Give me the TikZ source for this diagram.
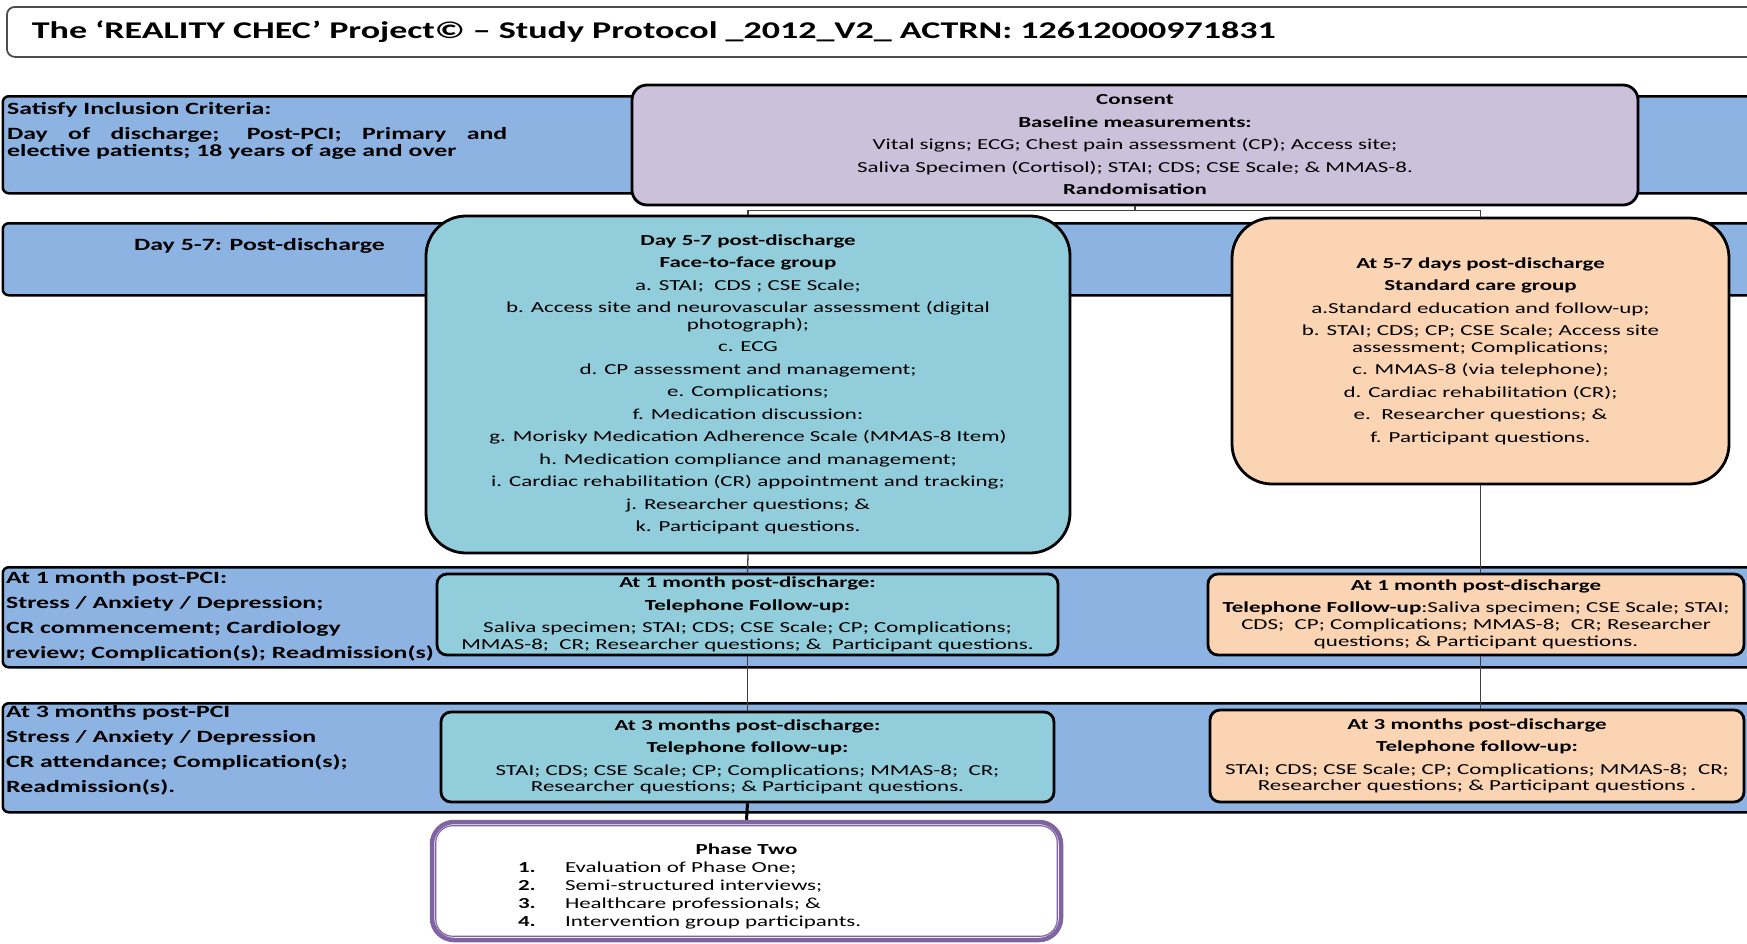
\documentclass[tikz,border=0pt]{standalone}
\usepackage{fontspec}
\setmainfont{Carlito}[FakeStretch=1.5]
\usetikzlibrary{calc}
\definecolor{bandblue}{HTML}{8DB3E2}
\definecolor{lav}{HTML}{CCC1DA}
\definecolor{aqua}{HTML}{92CDDC}
\definecolor{peach}{HTML}{FBD4B4}
\definecolor{purp}{HTML}{8064A2}
\newcommand\bodyfont{\fontsize{15.3}{16.7}\selectfont}
\newcommand\bandfont{\fontsize{17.2}{17.2}\selectfont\bfseries}
\newcommand\pgap{\\[5.8pt]}
\begin{document}
\begin{tikzpicture}[x=1pt,y=-1pt,
  titlebox/.style={draw=gray!60!black, line width=1.8, rounded corners=8, fill=white,
    anchor=north west, minimum height=50, text width=1700, inner xsep=25, align=left,
    font=\fontsize{24}{28}\selectfont\bfseries},
  band/.style={draw=black, line width=2.5, fill=bandblue, rounded corners=6,
    anchor=north west, minimum width=1780, inner sep=0},
  bandtext/.style={anchor=west, align=left, inner sep=0, font=\bandfont},
  box/.style={draw=black, line width=2.8, align=center, inner sep=0, font=\bodyfont},
  consentbox/.style={box, fill=lav, rounded corners=15},
  f2fbox/.style={box, fill=aqua, rounded corners=40},
  stdbox/.style={box, fill=peach, rounded corners=40},
  telbox/.style={box, fill=aqua, rounded corners=10},
  telboxr/.style={box, fill=peach, rounded corners=10},
  phasebox/.style={draw=purp, line width=4.5, rounded corners=22, fill=white, inner sep=0,
    font=\bodyfont},
  conn/.style={draw=black!75, line width=1.3},
  thickconn/.style={draw=black, line width=3}]
\useasboundingbox (0,0) rectangle (1747,943);

% heading strip
\node[titlebox] (title) at (6,6)
  {The ‘REALITY CHEC’ Project© – Study Protocol \_2012\_V2\_ ACTRN: 12612000971831};

% time-point bands
\node[band, minimum height=97]  (band1) at (1.5,95)  {};
\node[band, minimum height=72]  (band2) at (1.5,222) {};
\node[band, minimum height=100] (band3) at (1.5,566) {};
\node[band, minimum height=109] (band4) at (1.5,702) {};

\node[bandtext] (crit) at (7,131)
  {Satisfy Inclusion Criteria:\\[8pt]
   \makebox[500pt][s]{Day of discharge; Post-PCI; Primary and}\\
   elective patients; 18 years of age and over};
\node[bandtext] (day57) at (134,246) {Day 5-7: Post-discharge};
\node[bandtext, font=\fontsize{17.2}{25}\selectfont\bfseries] (mon1) at (6,616.5)
  {At 1 month post-PCI:\\ Stress / Anxiety / Depression;\\ CR commencement; Cardiology\\
   review; Complication(s); Readmission(s)};
\node[bandtext, font=\fontsize{17.2}{25}\selectfont\bfseries] (mon3) at (6,750.5)
  {At 3 months post-PCI\\ Stress / Anxiety / Depression\\ CR attendance; Complication(s);\\
   Readmission(s).};

% consent and baseline
\node[consentbox, minimum width=1006, minimum height=120] (consent) at (1135,145)
  {\textbf{Consent}\pgap
   \textbf{Baseline measurements:}\pgap
   Vital signs; ECG; Chest pain assessment (CP); Access site;\pgap
   Saliva Specimen (Cortisol); STAI; CDS; CSE Scale; \& MMAS-8.\pgap
   \textbf{Randomisation}};

% day 5-7 groups
\node[f2fbox, minimum width=644, minimum height=337] (f2f) at (748,384.5)
  {\textbf{Day 5-7 post-discharge}\pgap
   \textbf{Face-to-face group}\pgap
   a. STAI;\ \ CDS ; CSE Scale;\pgap
   b. Access site and neurovascular assessment (digital\\ photograph);\pgap
   c. ECG\pgap
   d. CP assessment and management;\pgap
   e. Complications;\pgap
   f. Medication discussion:\pgap
   g. Morisky Medication Adherence Scale (MMAS-8 Item)\pgap
   h. Medication compliance and management;\pgap
   i. Cardiac rehabilitation (CR) appointment and tracking;\pgap
   j. Researcher questions; \&\pgap
   k. Participant questions.};
\node[stdbox, minimum width=497, minimum height=266] (std) at (1480.5,351)
  {\textbf{At 5-7 days post-discharge}\pgap
   \textbf{Standard care group}\pgap
   a.Standard education and follow-up;\pgap
   b. STAI; CDS; CP; CSE Scale; Access site\\ assessment; Complications;\pgap
   c. MMAS-8 (via telephone);\pgap
   d. Cardiac rehabilitation (CR);\pgap
   e.\ \ Researcher questions; \&\pgap
   f. Participant questions.};

% one-month follow-up
\node[telbox, minimum width=621, minimum height=81] (m1l) at (747.5,614.5)
  {\textbf{At 1 month post-discharge:}\pgap
   \textbf{Telephone Follow-up:}\pgap
   Saliva specimen; STAI; CDS; CSE Scale; CP; Complications;\\
   MMAS-8;\ \ CR; Researcher questions; \&\ \ Participant questions.};
\node[telboxr, minimum width=536, minimum height=81] (m1r) at (1476,614.5)
  {\textbf{At 1 month post-discharge}\\[5.3pt]
   \textbf{Telephone Follow-up}:Saliva specimen; CSE Scale; STAI;\\
   CDS;\ \ CP; Complications; MMAS-8;\ \ CR; Researcher\\
   questions; \& Participant questions.};

% three-month follow-up
\node[telbox, minimum width=613, minimum height=90] (m3l) at (747.5,757)
  {\textbf{At 3 months post-discharge:}\pgap
   \textbf{Telephone follow-up:}\pgap
   STAI; CDS; CSE Scale; CP; Complications; MMAS-8;\ \ CR;\\
   Researcher questions; \& Participant questions.};
\node[telboxr, minimum width=534, minimum height=92] (m3r) at (1477,756)
  {\textbf{At 3 months post-discharge}\pgap
   \textbf{Telephone follow-up:}\pgap
   STAI; CDS; CSE Scale; CP; Complications; MMAS-8;\ \ CR;\\
   Researcher questions; \& Participant questions .};

% phase two
\node[phasebox, minimum width=629, minimum height=118] (phase) at (746.5,881)
  {\parbox{629pt}{\fontsize{15.3}{18}\selectfont
   \vspace*{11pt}
   \centering\textbf{Phase Two}\par
   \raggedright\leftskip=86pt
   \makebox[47pt][l]{\textbf{1.}}Evaluation of Phase One;\par
   \makebox[47pt][l]{\textbf{2.}}Semi-structured interviews;\par
   \makebox[47pt][l]{\textbf{3.}}Healthcare professionals; \&\par
   \makebox[47pt][l]{\textbf{4.}}Intervention group participants.\par}};
\draw[purp, line width=1.2, rounded corners=17]
  ([xshift=6pt,yshift=-6pt]phase.north west) rectangle ([xshift=-6pt,yshift=6pt]phase.south east);

% connectors
\draw[conn] (consent.south) -- ++(0,4) coordinate (split);
\draw[conn] (split) -| (f2f.north);
\draw[conn] (split) -| (std.north);
\draw[conn] (f2f.south) -- (m1l.north);
\draw[conn] (std.south) -- (std.south |- m1r.north);
\draw[conn] (m1l.south) -- (m3l.north);
\draw[conn] (std.south |- m1r.south) -- (std.south |- m3r.north);
\draw[thickconn] (m3l.south) -- (phase.north);
\end{tikzpicture}
\end{document}
